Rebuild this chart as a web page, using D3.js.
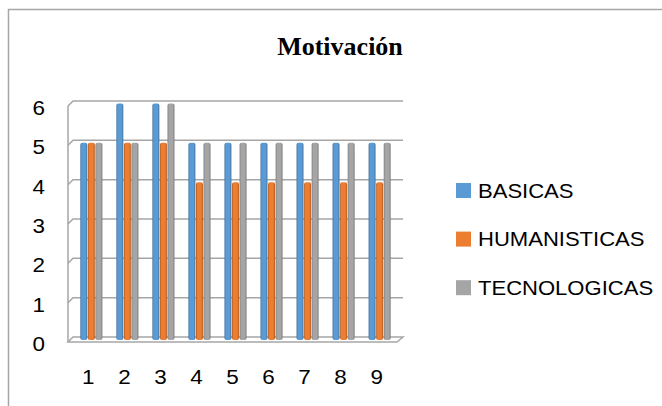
<!DOCTYPE html>
<html>
<head>
<meta charset="utf-8">
<script src="https://cdn.jsdelivr.net/npm/d3@7"></script>
<style>
  body { margin: 0; background: #fff; }
  svg { display: block; }
</style>
</head>
<body>
<div id="chart"></div>
<script>
const categories = ['1', '2', '3', '4', '5', '6', '7', '8', '9'];
const seriesNames = ['BASICAS', 'HUMANISTICAS', 'TECNOLOGICAS'];
const basicas = [5, 6, 6, 5, 5, 5, 5, 5, 5];
const humanisticas = [5, 5, 5, 4, 4, 4, 4, 4, 4];
const tecnologicas = [5, 5, 6, 5, 5, 5, 5, 5, 5];
const yTicks = [0, 1, 2, 3, 4, 5, 6];
const colors = ['#5B9BD5', '#ED7D31', '#A5A5A5'];
const darker = ['#41719C', '#AE5A21', '#7B7B7B'];

const series = [basicas, humanisticas, tecnologicas];

const W = 662, H = 406;
// back wall / front plane offset (fake 3D depth)
const depthX = -5, depthY = 5;

const svg = d3.select('#chart')
  .append('svg')
  .attr('width', W)
  .attr('height', H);

// outer frame (only left and top visible)
svg.append('path')
  .attr('d', 'M8.5,' + H + 'V9.5H' + W)
  .attr('fill', 'none')
  .attr('stroke', '#a6a6a6')
  .attr('stroke-width', 1.5);

svg.append('text')
  .attr('x', 340)
  .attr('y', 55)
  .attr('text-anchor', 'middle')
  .style('font-family', '"Liberation Serif", "Times New Roman", serif')
  .style('font-weight', 'bold')
  .style('font-size', '26px')
  .text('Motivación');

// scales on the back wall
const y = d3.scaleLinear().domain([0, 6]).range([337, 101]);
const xBack = d3.scaleBand().domain(categories).range([73, 403]).paddingInner(0.37).paddingOuter(0.25);
const xMid = d3.scaleBand().domain(categories).range([71, 400]).paddingInner(0.37).paddingOuter(0.25);
const xFront = d3.scaleBand().domain(categories).range([68, 397]).paddingInner(0.37).paddingOuter(0.25);
const x1 = d3.scaleBand().domain(seriesNames).range([0, xMid.bandwidth()]);

const grid = svg.append('g').attr('class', 'grid');

// floor
grid.append('path')
  .attr('d', 'M' + xBack.range()[0] + ',' + y(0) + 'H' + xBack.range()[1] +
    'L' + (xBack.range()[1] + depthX - 1) + ',' + (y(0) + depthY) +
    'H' + (xBack.range()[0] + depthX) + 'Z')
  .attr('fill', '#fff')
  .attr('stroke', '#a6a6a6')
  .attr('stroke-width', 1.5);

// back wall gridlines + left wall segments
grid.selectAll('.gl')
  .data(yTicks.slice(1))
  .enter().append('path')
  .attr('class', 'gl')
  .attr('d', function(d) {
    return 'M' + (xBack.range()[0] + depthX) + ',' + (y(d) + depthY) +
      'L' + xBack.range()[0] + ',' + y(d) + 'H' + xBack.range()[1];
  })
  .attr('fill', 'none')
  .attr('stroke', '#a6a6a6')
  .attr('stroke-width', 1.5);

// left wall vertical
grid.append('line')
  .attr('x1', xBack.range()[0] + depthX)
  .attr('x2', xBack.range()[0] + depthX)
  .attr('y1', y(6) + depthY)
  .attr('y2', y(0) + depthY)
  .attr('stroke', '#a6a6a6')
  .attr('stroke-width', 1.5);

// gradients for the column look
const defs = svg.append('defs');
colors.forEach(function(c, i) {
  const g = defs.append('linearGradient')
    .attr('id', 'grad' + i)
    .attr('x1', 0).attr('x2', 1).attr('y1', 0).attr('y2', 0);
  g.append('stop').attr('offset', '0%').attr('stop-color', darker[i]);
  g.append('stop').attr('offset', '20%').attr('stop-color', c);
  g.append('stop').attr('offset', '75%').attr('stop-color', c);
  g.append('stop').attr('offset', '100%').attr('stop-color', darker[i]);
});

const rows = [];
categories.forEach(function(cat, ci) {
  series.forEach(function(s, si) {
    rows.push({ cat: cat, name: seriesNames[si], si: si, value: s[ci] });
  });
});

const yMidOff = 2.5;
svg.append('g').attr('class', 'bars')
  .selectAll('rect')
  .data(rows)
  .enter().append('rect')
  .attr('x', function(d) { return xMid(d.cat) + x1(d.name) + 0.3; })
  .attr('y', function(d) { return y(d.value) + yMidOff; })
  .attr('width', x1.bandwidth() - 0.6)
  .attr('height', function(d) { return y(0) + yMidOff + 0.5 - (y(d.value) + yMidOff); })
  .attr('rx', 2)
  .attr('fill', function(d) { return 'url(#grad' + d.si + ')'; });

// y axis labels (text is stretched a bit, like the source)
svg.append('g')
  .selectAll('text')
  .data(yTicks)
  .enter().append('text')
  .attr('transform', function(d) { return 'translate(45,' + (y(d) + 14) + ') scale(1.15,1)'; })
  .attr('text-anchor', 'end')
  .style('font-family', '"Liberation Sans", Arial, sans-serif')
  .style('font-size', '19.5px')
  .attr('fill', '#000')
  .text(function(d) { return d; });

// x axis labels
svg.append('g')
  .selectAll('text')
  .data(categories)
  .enter().append('text')
  .attr('transform', function(d) {
    return 'translate(' + (xFront(d) + xFront.bandwidth() / 2) + ',384) scale(1.15,1)';
  })
  .attr('text-anchor', 'middle')
  .style('font-family', '"Liberation Sans", Arial, sans-serif')
  .style('font-size', '19.5px')
  .attr('fill', '#000')
  .text(function(d) { return d; });

// legend
const legend = svg.append('g')
  .selectAll('g')
  .data(seriesNames)
  .enter().append('g')
  .attr('transform', function(d, i) { return 'translate(456,' + (183 + i * 48.6) + ')'; });
legend.append('rect')
  .attr('width', 15)
  .attr('height', 15)
  .attr('fill', function(d, i) { return colors[i]; });
legend.append('text')
  .attr('transform', 'translate(22,14.5) scale(1.05,1)')
  .style('font-family', '"Liberation Sans", Arial, sans-serif')
  .style('font-size', '21px')
  .attr('fill', '#000')
  .text(function(d) { return d; });
</script>
</body>
</html>
